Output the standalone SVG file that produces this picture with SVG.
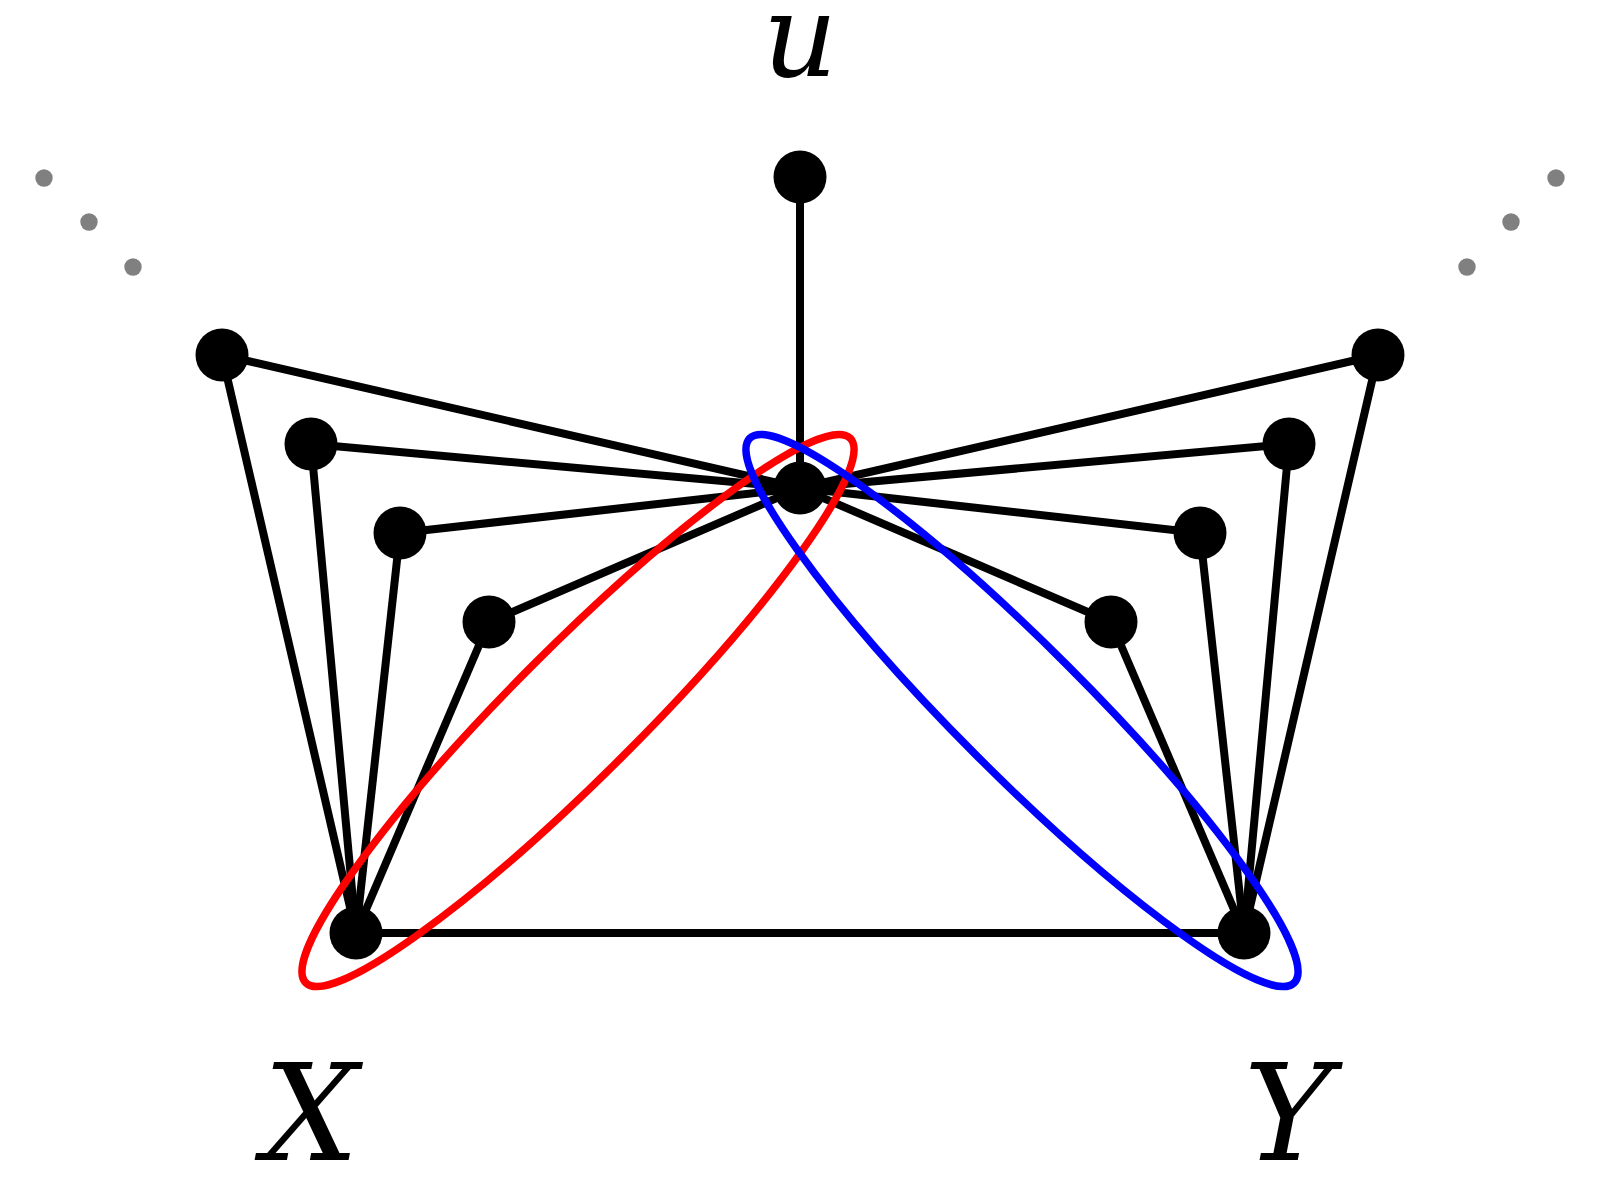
<svg xmlns="http://www.w3.org/2000/svg" width="1600" height="1200" viewBox="0 0 1600 1200">
<style>
.e{stroke:#000;stroke-width:8;fill:none}
.n{fill:#000}
.g{fill:#808080}
.lbl{font-family:"DejaVu Serif",serif;font-style:italic;font-weight:normal;fill:#000;text-anchor:middle}
.hr{fill:none;stroke:#ff0000;stroke-width:7.5}
.hb{fill:none;stroke:#0000ff;stroke-width:7.5}
</style>
<rect width="1600" height="1200" fill="#fff"/>
<g id="connectors">
<line class="e" x1="800" y1="177" x2="800" y2="488"/>
<line class="e" x1="222" y1="355" x2="800" y2="488"/>
<line class="e" x1="311" y1="444" x2="800" y2="488"/>
<line class="e" x1="400" y1="533" x2="800" y2="488"/>
<line class="e" x1="489" y1="622" x2="800" y2="488"/>
<line class="e" x1="1378" y1="355" x2="800" y2="488"/>
<line class="e" x1="1289" y1="444" x2="800" y2="488"/>
<line class="e" x1="1200" y1="533" x2="800" y2="488"/>
<line class="e" x1="1111" y1="622" x2="800" y2="488"/>
<line class="e" x1="222" y1="355" x2="356" y2="933"/>
<line class="e" x1="311" y1="444" x2="356" y2="933"/>
<line class="e" x1="400" y1="533" x2="356" y2="933"/>
<line class="e" x1="489" y1="622" x2="356" y2="933"/>
<line class="e" x1="1378" y1="355" x2="1244" y2="933"/>
<line class="e" x1="1289" y1="444" x2="1244" y2="933"/>
<line class="e" x1="1200" y1="533" x2="1244" y2="933"/>
<line class="e" x1="1111" y1="622" x2="1244" y2="933"/>
<line class="e" x1="356" y1="933" x2="1244" y2="933"/>
</g>
<g id="node-u"><circle class="n" cx="800" cy="177" r="26.5"/></g>
<g id="node-c"><circle class="n" cx="800" cy="488" r="26.5"/></g>
<g id="node-X"><circle class="n" cx="356" cy="933" r="26.5"/></g>
<g id="node-Y"><circle class="n" cx="1244" cy="933" r="26.5"/></g>
<g id="node-l1"><circle class="n" cx="222" cy="355" r="26.5"/></g>
<g id="node-l2"><circle class="n" cx="311" cy="444" r="26.5"/></g>
<g id="node-l3"><circle class="n" cx="400" cy="533" r="26.5"/></g>
<g id="node-l4"><circle class="n" cx="489" cy="622" r="26.5"/></g>
<g id="node-r1"><circle class="n" cx="1378" cy="355" r="26.5"/></g>
<g id="node-r2"><circle class="n" cx="1289" cy="444" r="26.5"/></g>
<g id="node-r3"><circle class="n" cx="1200" cy="533" r="26.5"/></g>
<g id="node-r4"><circle class="n" cx="1111" cy="622" r="26.5"/></g>
<g id="dots-left">
<circle class="g" cx="44" cy="178" r="8.7"/>
<circle class="g" cx="89" cy="222" r="8.7"/>
<circle class="g" cx="133" cy="267" r="8.7"/>
</g>
<g id="dots-right">
<circle class="g" cx="1556" cy="178" r="8.7"/>
<circle class="g" cx="1511" cy="222" r="8.7"/>
<circle class="g" cx="1467" cy="267" r="8.7"/>
</g>
<g id="hull-red"><ellipse class="hr" cx="578" cy="710.5" rx="385" ry="64" transform="rotate(-45 578 710.5)"/></g>
<g id="hull-blue"><ellipse class="hb" cx="1022" cy="710.5" rx="385" ry="64" transform="rotate(45 1022 710.5)"/></g>
<g id="labels">
<text class="lbl" x="800" y="76" font-size="116">u</text>
<text class="lbl" x="311" y="1160" font-size="134">X</text>
<text class="lbl" x="1288" y="1160" font-size="134">Y</text>
</g>
</svg>
